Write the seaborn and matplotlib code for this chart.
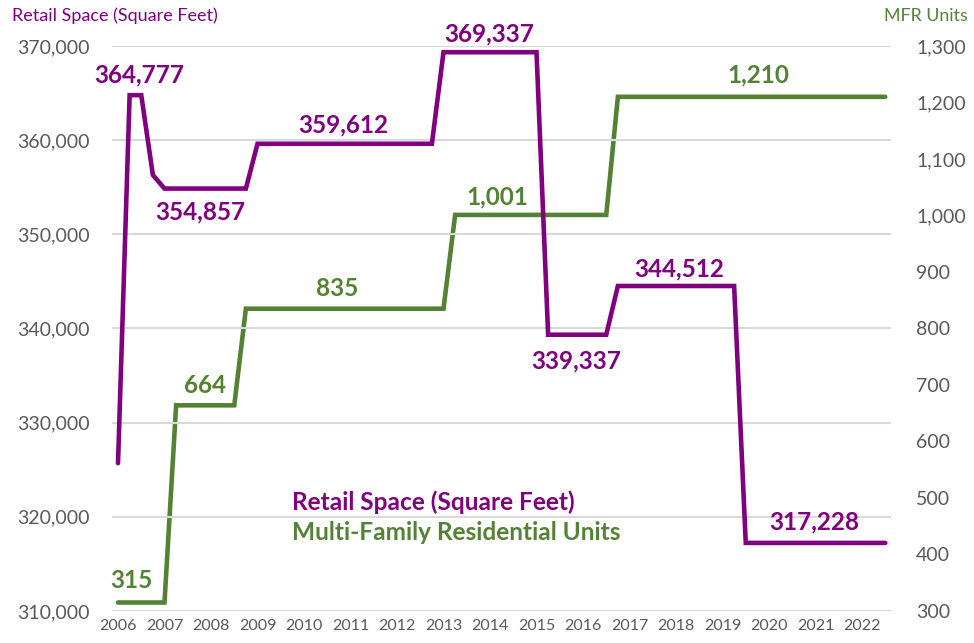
import pandas as pd
import seaborn as sns
import matplotlib.pyplot as plt
from matplotlib.ticker import FuncFormatter

# quarter breakpoints (values hold flat between them)
retail_quarters = ['2006Q1', '2006Q2', '2006Q3', '2006Q4', '2007Q1', '2008Q4', '2009Q1',
                   '2012Q4', '2013Q1', '2015Q1', '2015Q2', '2016Q3', '2016Q4', '2019Q2',
                   '2019Q3', '2022Q3']
retail_sqft = [325700, 364777, 364777, 356300, 354857, 354857, 359612,
               359612, 369337, 369337, 339337, 339337, 344512, 344512,
               317228, 317228]

mfr_quarters = ['2006Q1', '2007Q1', '2007Q2', '2008Q3', '2008Q4', '2013Q1', '2013Q2',
                '2016Q3', '2016Q4', '2022Q3']
mfr_units = [315, 315, 664, 664, 835, 835, 1001, 1001, 1210, 1210]

years = list(range(2006, 2023))

# labelled values
retail_labels = [364777, 354857, 359612, 369337, 339337, 344512, 317228]
mfr_labels = [315, 664, 835, 1001, 1210]


def to_year(q):
    p = pd.Period(q, freq='Q')
    return p.year + (p.quarter - 1) / 4


retail = pd.DataFrame({'year': [to_year(q) for q in retail_quarters], 'value': retail_sqft})
mfr = pd.DataFrame({'year': [to_year(q) for q in mfr_quarters], 'value': mfr_units})

PURPLE = '#800080'
GREEN = '#548235'
GREY = '#595959'

sns.set_style('white')
plt.rcParams['font.family'] = ['Lato', 'DejaVu Sans']

fig = plt.figure(figsize=(9.74, 6.43), dpi=100)
ax = fig.add_axes([0.115, 0.0498, 0.7998, 0.8787])
ax2 = ax.twinx()

sns.lineplot(data=retail, x='year', y='value', ax=ax, color=PURPLE, lw=3.3,
             solid_joinstyle='miter', solid_capstyle='round', zorder=3)
sns.lineplot(data=mfr, x='year', y='value', ax=ax2, color=GREEN, lw=3.3,
             solid_joinstyle='miter', solid_capstyle='round', zorder=3)
ax.set_zorder(ax2.get_zorder() + 1)
ax.patch.set_visible(False)

ax.set_xlim(2005.871, 2022.624)
ax.set_ylim(310000, 370000)
ax2.set_ylim(300, 1300)
ax.set_xticks(years)
ax.set_yticks(range(310000, 370001, 10000))
ax2.set_yticks(range(300, 1301, 100))
ax.yaxis.set_major_formatter(FuncFormatter(lambda v, p: f'{int(v):,}'))
ax2.yaxis.set_major_formatter(FuncFormatter(lambda v, p: f'{int(v):,}'))

ax.grid(axis='y', color='#D9D9D9', lw=1.5)
ax.grid(axis='x', visible=False)
ax2.grid(False)
for a in (ax, ax2):
    for s in a.spines.values():
        s.set_visible(False)
    a.set_xlabel('')
    a.set_ylabel('')
ax.tick_params(axis='y', length=0, pad=16, labelsize=14, labelcolor=GREY)
ax.tick_params(axis='x', length=0, pad=6, labelsize=11.5, labelcolor=GREY)
ax2.tick_params(axis='y', length=0, pad=18, labelsize=14, labelcolor=GREY)

# value labels: x position (year) and vertical offset in points
retail_pos = [(2006.45, 9.4), (2007.76, -22), (2010.84, 8.3), (2013.98, 8),
              (2015.85, -24), (2018.06, 7), (2020.97, 9.7)]
mfr_pos = [(2006.28, 10.4), (2007.87, 9), (2010.71, 9), (2014.15, 7.6), (2019.78, 10.4)]

for v, (lx, dy) in zip(retail_labels, retail_pos):
    ax.annotate(f'{v:,}', xy=(lx, v), xytext=(0, dy), textcoords='offset points',
                ha='center', va='baseline', fontsize=17.5, fontweight='bold', color=PURPLE)
for v, (lx, dy) in zip(mfr_labels, mfr_pos):
    ax2.annotate(f'{v:,}', xy=(lx, v), xytext=(0, dy), textcoords='offset points',
                 ha='center', va='baseline', fontsize=17.5, fontweight='bold', color=GREEN)

# legend as coloured text
fig.text(292 / 974, 1 - 502 / 643, 'Retail Space (Square Feet)', color=PURPLE,
         fontsize=17.6, fontweight='bold', va='center', ha='left')
fig.text(292 / 974, 1 - 533 / 643, 'Multi-Family Residential Units', color=GREEN,
         fontsize=17.6, fontweight='bold', va='center', ha='left')

# axis titles
fig.text(12 / 974, 1 - 16 / 643, 'Retail Space (Square Feet)', color=PURPLE,
         fontsize=13, va='center', ha='left')
fig.text(968 / 974, 1 - 16 / 643, 'MFR Units', color=GREEN,
         fontsize=12.8, va='center', ha='right')

fig.savefig('out.png', dpi=100)
